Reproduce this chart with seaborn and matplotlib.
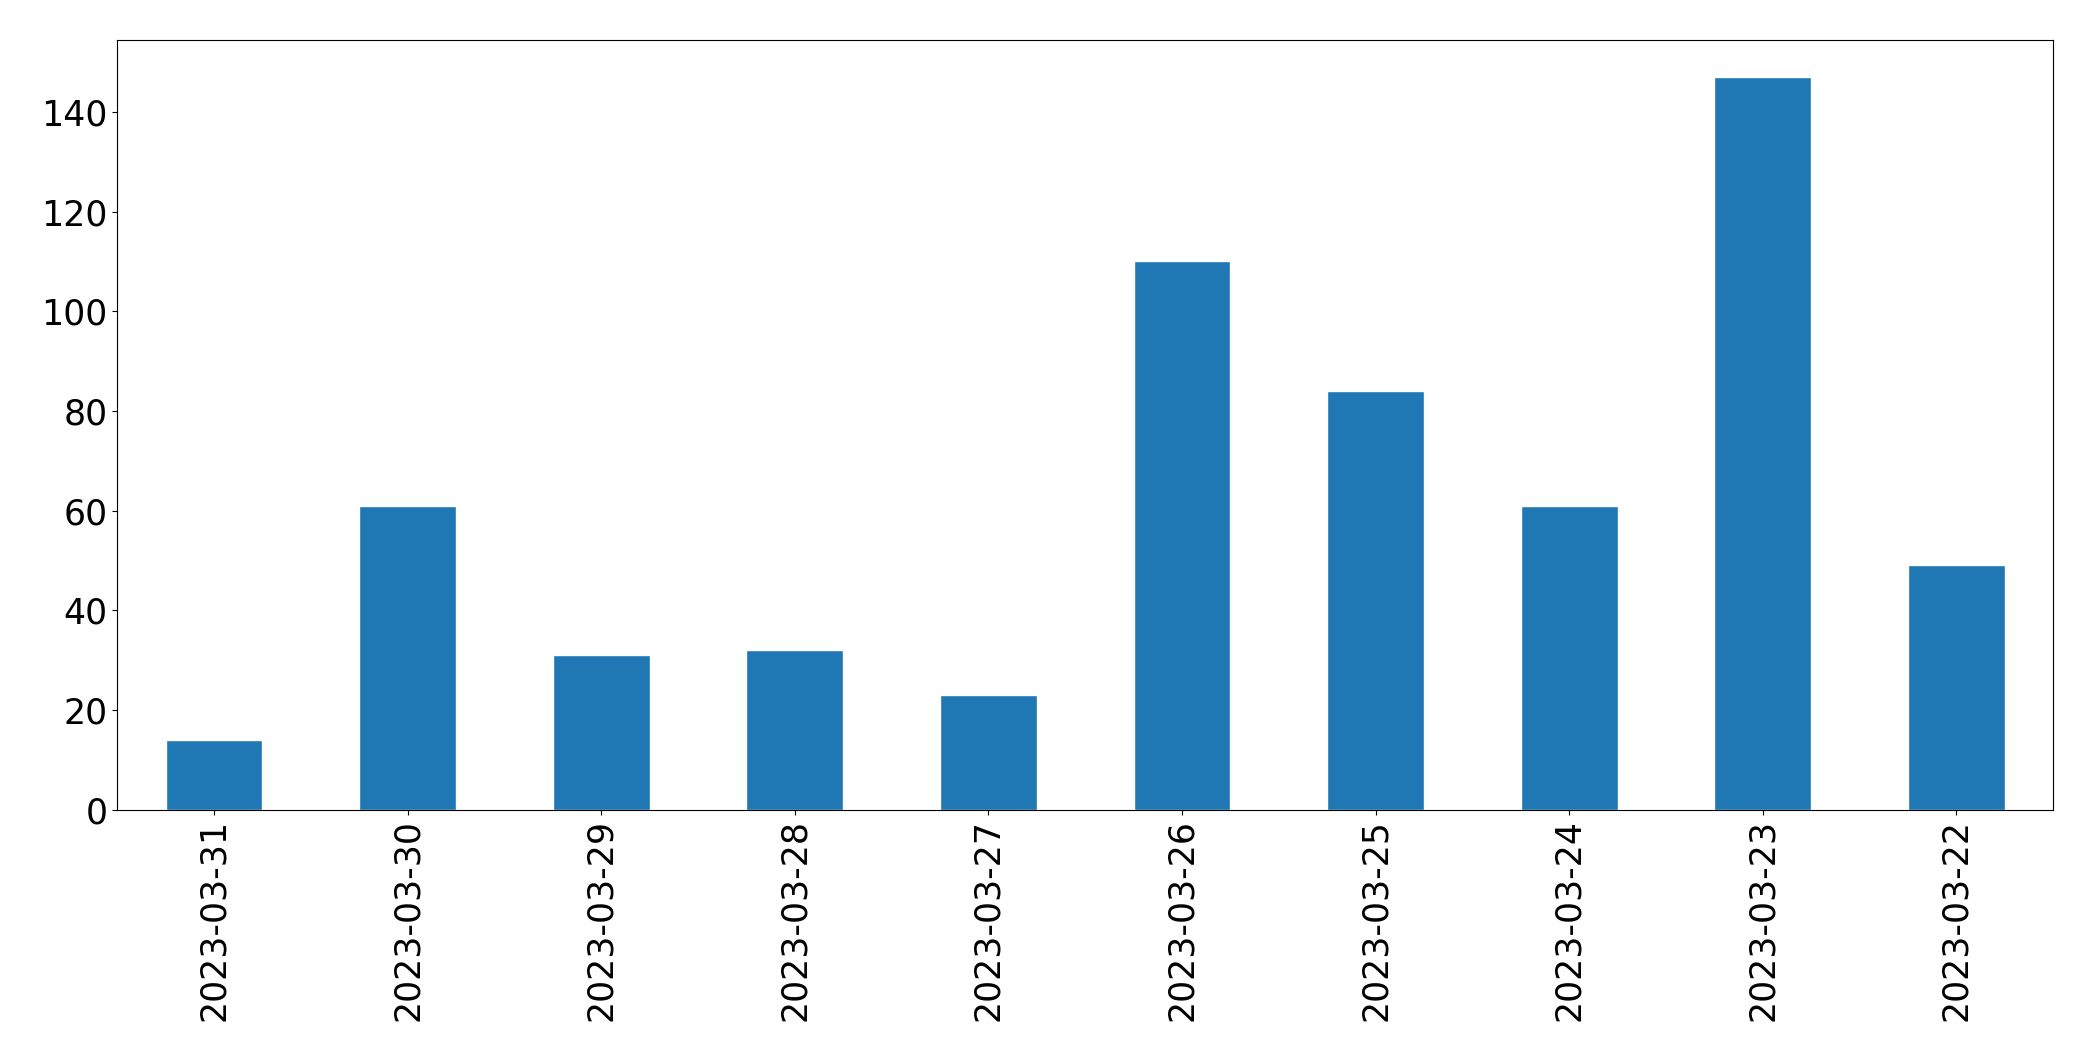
import matplotlib
matplotlib.use("Agg")
import matplotlib.pyplot as plt
import seaborn as sns
import pandas as pd

# daily counts, newest first (as in the original frame)
dates = ['2023-03-31', '2023-03-30', '2023-03-29', '2023-03-28', '2023-03-27',
         '2023-03-26', '2023-03-25', '2023-03-24', '2023-03-23', '2023-03-22']
counts = [14, 61, 31, 32, 23, 110, 84, 61, 147, 49]

frame = pd.DataFrame({'date': dates, 'count': counts})

sns.set_style("ticks", rc={'axes.edgecolor': 'black', 'text.color': 'black',
                           'xtick.color': 'black', 'ytick.color': 'black',
                           'axes.labelcolor': 'black',
                           'xtick.major.size': 3.5, 'ytick.major.size': 3.5,
                           'xtick.major.width': 0.8, 'ytick.major.width': 0.8,
                           'axes.linewidth': 0.8})
plt.rcParams['font.family'] = ['DejaVu Sans']

fig, ax = plt.subplots(figsize=(20.93, 10.61), dpi=100)
sns.barplot(data=frame, x='date', y='count', order=dates, color='#1f77b4',
            saturation=1, width=0.5, ax=ax)

ax.set_xlabel('')
ax.set_ylabel('')
ax.set_xlim(-0.5, len(dates) - 0.5)
ax.tick_params(axis='both', labelsize=25)
ax.tick_params(axis='x', labelrotation=90)
for side in ['top', 'right', 'left', 'bottom']:
    ax.spines[side].set_visible(True)

plt.subplots_adjust(left=0.056, right=0.981, top=0.962, bottom=0.237)
plt.savefig('out.png', dpi=100)
